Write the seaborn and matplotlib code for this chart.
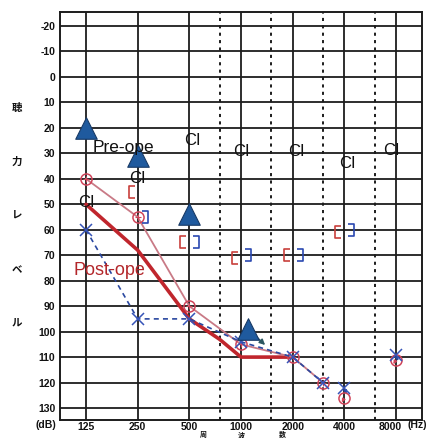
import numpy as np
import pandas as pd
import matplotlib
matplotlib.use("Agg")
import matplotlib.pyplot as plt
import seaborn as sns
from matplotlib.path import Path
from matplotlib.transforms import ScaledTranslation

# ---------------- data ----------------
freq_ticks = [125, 250, 500, 1000, 2000, 4000, 8000]
half_octaves = [750, 1500, 3000, 6000]
db_ticks = list(range(-20, 131, 10))

right_air_freq = [125, 250, 500, 1000, 2000, 3000]
right_air_db = [40, 55, 90, 105, 110, 120]
right_out_freq = [4000, 8000]
right_out_db = [126, 111]

left_air_freq = [125, 250, 500, 1000, 2000, 3000]
left_air_db = [60, 95, 95, 104, 110, 120]
left_out_freq = [4000, 8000]
left_out_db = [122, 109]

post_freq = [125, 250, 500, 750, 1000, 2000]
post_db = [50, 68, 95, 103, 110, 110]

aided_freq = [125, 250, 500, 1100]
aided_db = [20, 31, 54, 99]
aided_out_tip = (1420, 106)

bone_r_freq = [250, 500, 1000, 2000, 4000]
bone_r_db = [45, 65, 71, 70, 61]
bone_l_freq = [250, 500, 1000, 2000, 4000]
bone_l_db = [55, 65, 70, 70, 60]

ci_freq = [125, 250, 520, 1000, 2110, 4160, 7480]
ci_db = [51.1, 41.6, 26.7, 31.0, 31.0, 35.7, 30.6]

pre_label = ("Pre-ope", 207, 29.5)
post_label = ("Post-ope", 171, 77.8)

ylabel_chars = ["聴", "力", "レ", "ベ", "ル"]
xlabel_chars = ["周", "波", "数"]

# ---------------- style ----------------
sns.set_theme(style="white")
plt.rcParams["font.family"] = ["Liberation Sans", "Noto Sans CJK JP", "DejaVu Sans"]

fig = plt.figure(figsize=(4.31, 4.38), dpi=100)
ax = fig.add_axes([60 / 431, 18 / 438, 362 / 431, 408 / 438])
ax.set_facecolor("white")

ax.set_xscale("log", base=2)
ax.set_xlim(125 * 2 ** -0.503, 125 * 2 ** 6.503)
ax.set_ylim(134.7, -25.5)

gridc = "#1c1c1c"
for d in db_ticks:
    ax.axhline(d, color=gridc, lw=1.3, zorder=1)
for f in freq_ticks:
    ax.axvline(f, color=gridc, lw=1.3, zorder=1)
for f in half_octaves:
    ax.axvline(f, color=gridc, lw=1.4, ls=(0, (1.6, 2.2)), zorder=1)
for s in ax.spines.values():
    s.set_color(gridc)
    s.set_linewidth(1.4)

# post-op thick red
sns.lineplot(x=post_freq, y=post_db, ax=ax, color="#c0262d", lw=2.6,
             sort=False, zorder=3)
# right ear thin red with circles
sns.lineplot(x=right_air_freq, y=right_air_db, ax=ax, color="#c97a86", lw=1.3,
             sort=False, marker="o", markersize=8, markerfacecolor="none",
             markeredgecolor="#d0445a", markeredgewidth=1.1, zorder=4)
ax.plot(right_air_freq, right_air_db, ls="none", marker="+", ms=5, mew=0.8,
        color="#d0445a", zorder=4)
# left ear blue dashed with x
sns.lineplot(x=left_air_freq, y=left_air_db, ax=ax, color="#2a48a0", lw=1.2,
             sort=False, dashes=False, zorder=4)
ax.lines[-1].set_linestyle((0, (3, 2.5)))
ax.plot(left_air_freq, left_air_db, ls="none", marker="x", ms=9, mew=1.1,
        color="#3654b8", zorder=5)

# scale-out markers
ax.plot(right_out_freq, right_out_db, ls="none", marker="o", ms=8, mfc="none",
        mec="#d0445a", mew=1.1, zorder=5)
ax.plot(left_out_freq, left_out_db, ls="none", marker="x", ms=9, mew=1.1,
        color="#3654b8", zorder=5)
for f, d in zip(right_out_freq, right_out_db):
    ax.annotate("", xy=(f, d), xycoords=ax.transData + ScaledTranslation(-4 / 100, -7 / 100, fig.dpi_scale_trans),
                xytext=(f, d), textcoords="data",
                arrowprops=dict(arrowstyle="-|>", color="#d0445a", lw=0.9, mutation_scale=5))
for f, d in zip(left_out_freq, left_out_db):
    ax.annotate("", xy=(f, d), xycoords=ax.transData + ScaledTranslation(3 / 100, -9 / 100, fig.dpi_scale_trans),
                xytext=(f, d), textcoords="data",
                arrowprops=dict(arrowstyle="-|>", color="#2a48a0", lw=0.9, mutation_scale=5))

# aided triangles
sns.scatterplot(x=aided_freq, y=aided_db, ax=ax, marker="^", s=240,
                color="#1f5a9e", edgecolor="#183a66", linewidth=0.8, zorder=6)
ax.annotate("", xy=aided_out_tip, xytext=(aided_freq[-1], aided_db[-1]),
            arrowprops=dict(arrowstyle="-|>", color="#2b5660", lw=1.1, mutation_scale=8),
            zorder=5)

# bone conduction brackets
lb = Path([(0.45, 1), (-0.45, 1), (-0.45, -1), (0.45, -1)],
          [Path.MOVETO, Path.LINETO, Path.LINETO, Path.LINETO])
rb = Path([(-0.45, 1), (0.45, 1), (0.45, -1), (-0.45, -1)],
          [Path.MOVETO, Path.LINETO, Path.LINETO, Path.LINETO])
ax.plot(bone_r_freq, bone_r_db, ls="none", marker=lb, ms=9, mfc="none",
        mec="#c8403c", mew=1.2, zorder=5,
        transform=ax.transData + ScaledTranslation(-6 / 100, 0, fig.dpi_scale_trans))
ax.plot(bone_l_freq, bone_l_db, ls="none", marker=rb, ms=9, mfc="none",
        mec="#2a48b0", mew=1.2, zorder=5,
        transform=ax.transData + ScaledTranslation(7 / 100, 0, fig.dpi_scale_trans))

# texts
for f, d in zip(ci_freq, ci_db):
    ax.text(f, d, "CI", fontsize=12, ha="center", va="baseline", color="#111111", zorder=7)
ax.text(pre_label[1], pre_label[2], pre_label[0], fontsize=12.5, ha="center",
        va="baseline", color="#111111", zorder=7)
ax.text(post_label[1], post_label[2], post_label[0], fontsize=13, ha="center",
        va="baseline", color="#b3262a", zorder=7)

# ticks
ax.set_xticks(freq_ticks)
ax.set_xticklabels([str(f) for f in freq_ticks])
ax.xaxis.set_minor_locator(matplotlib.ticker.NullLocator())
ax.set_yticks(db_ticks)
ax.set_yticklabels([str(d) for d in db_ticks])
ax.tick_params(axis="both", length=0, labelsize=7.5, colors="#111111")
ax.tick_params(axis="y", pad=3.5)
ax.tick_params(axis="x", pad=1.8)
for t in ax.get_xticklabels() + ax.get_yticklabels():
    t.set_fontweight("bold")
last = ax.get_xticklabels()[-1]
last.set_transform(last.get_transform() + ScaledTranslation(-6 / 100, 0, fig.dpi_scale_trans))
ax.set_xlabel("")
ax.set_ylabel("")

fig.text(46 / 431, 1 - 425 / 438, "(dB)", fontsize=7.5, fontweight="bold",
         ha="center", va="center", color="#111111")
fig.text(417 / 431, 1 - 425 / 438, "(Hz)", fontsize=7.5, fontweight="bold",
         ha="center", va="center", color="#111111")

for i, ch in enumerate(ylabel_chars):
    fig.text(17 / 431, 1 - (108 + 54 * i) / 438, ch, fontsize=7.5, fontweight="bold",
             family=["Noto Sans CJK JP"], ha="center", va="center", color="#111111")
for ch, px in zip(xlabel_chars, [203, 241, 282]):
    fig.text(px / 431, 0.0, ch, fontsize=5, fontweight="bold",
             family=["Noto Sans CJK JP"], ha="center", va="bottom", color="#111111")

fig.savefig("out.png", dpi=100)
